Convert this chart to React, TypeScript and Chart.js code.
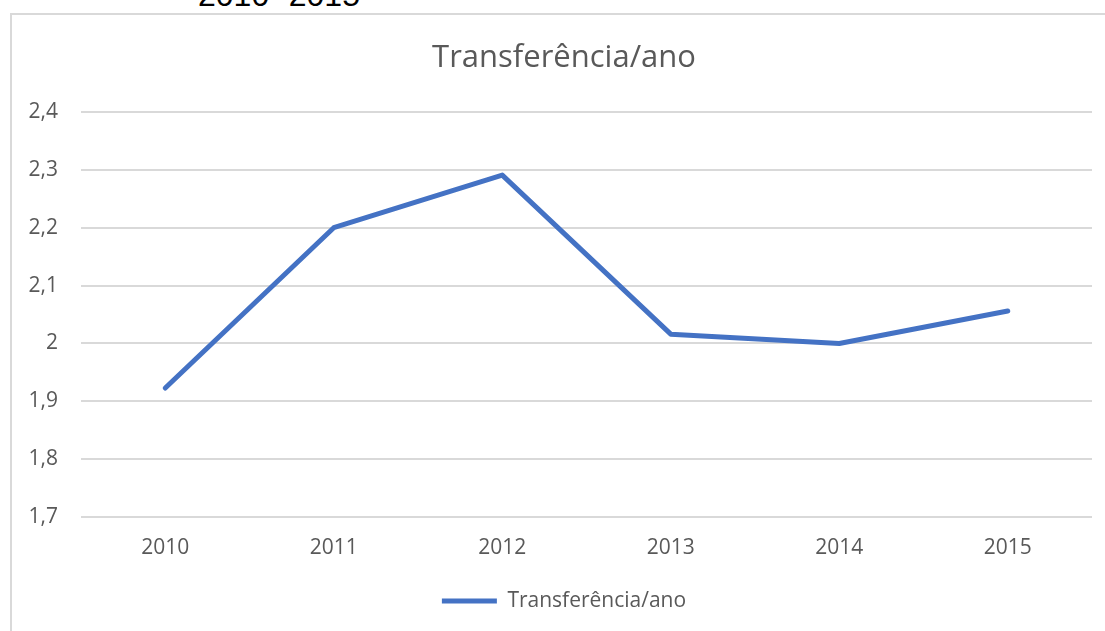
import React, { useEffect, useRef } from "react";
import { Chart, registerables } from "chart.js";

Chart.register(...registerables);

const categories = ["2010", "2011", "2012", "2013", "2014", "2015"];
const seriesName = "Transferência/ano";
const values = [1.923, 2.2, 2.291, 2.016, 2.0, 2.056];
const yMin = 1.7;
const yMax = 2.4;
const yStep = 0.1;
const titleText = "Transferência/ano";
const captionText = "2010- 2015";

const FONT = "'Open Sans', 'Noto Sans', sans-serif";
const GRAY = "#595959";

export default function App() {
  const ref = useRef<HTMLCanvasElement | null>(null);

  useEffect(() => {
    if (!ref.current) return;
    const chart = new Chart(ref.current, {
      type: "line",
      data: {
        labels: categories,
        datasets: [
          {
            label: seriesName,
            data: values,
            borderColor: "#4472C4",
            backgroundColor: "#4472C4",
            borderWidth: 5,
            borderCapStyle: "round",
            borderJoinStyle: "round",
            pointRadius: 0,
            pointHoverRadius: 0,
            tension: 0,
            fill: false,
          },
        ],
      },
      options: {
        responsive: false,
        animation: false,
        devicePixelRatio: 1,
        layout: { padding: { left: 0, right: 0, top: 0, bottom: 9.5 } },
        plugins: {
          title: {
            display: true,
            text: titleText,
            color: GRAY,
            font: { family: FONT, size: 31, weight: "normal", lineHeight: 1.2 },
            padding: { top: 39.4, bottom: 35.4 },
          },
          legend: {
            display: true,
            position: "bottom",
            labels: {
              usePointStyle: true,
              pointStyle: "line",
              pointStyleWidth: 55,
              color: GRAY,
              padding: 10,
              font: { family: FONT, size: 21 },
            },
          },
          tooltip: { enabled: false },
        },
        scales: {
          x: {
            offset: true,
            grid: { display: false, drawTicks: false },
            border: { display: false },
            ticks: {
              color: GRAY,
              font: { family: FONT, size: 21, lineHeight: 1.2 },
              padding: 18,
              maxRotation: 0,
            },
            afterFit: (s: any) => {
              s.height = 63.5;
            },
          },
          y: {
            min: yMin,
            max: yMax,
            grid: { color: "#d9d9d9", lineWidth: 2, drawTicks: false },
            border: { display: false },
            ticks: {
              stepSize: yStep,
              color: GRAY,
              padding: 23,
              font: { family: FONT, size: 21, lineHeight: 1.2 },
              callback: (v: any) =>
                String(Number(Number(v).toFixed(1))).replace(".", ","),
            },
            afterFit: (s: any) => {
              s.width = 81;
            },
          },
          y2: {
            position: "right",
            display: true,
            grid: { display: false, drawTicks: false },
            border: { display: false },
            ticks: { display: false },
            afterFit: (s: any) => {
              s.width = 36;
            },
          },
        },
      },
    });
    return () => chart.destroy();
  }, []);

  return (
    <div
      style={{
        position: "fixed",
        left: 0,
        top: 0,
        width: 1105,
        height: 631,
        overflow: "hidden",
        background: "#ffffff",
      }}
    >
      <div
        style={{
          position: "absolute",
          left: 198,
          top: -21,
          fontFamily: "'Liberation Sans', Arial, sans-serif",
          fontSize: 32,
          lineHeight: "32px",
          color: "#000000",
          whiteSpace: "nowrap",
        }}
      >
        {captionText}
      </div>
      <div
        style={{
          position: "absolute",
          left: 10,
          top: 13,
          width: 1120,
          height: 660,
          border: "2px solid #d9d9d9",
          boxSizing: "border-box",
        }}
      />
      <canvas
        ref={ref}
        width={1128}
        height={631}
        style={{ position: "absolute", left: 0, top: 0, width: 1128, height: 631 }}
      />
    </div>
  );
}
